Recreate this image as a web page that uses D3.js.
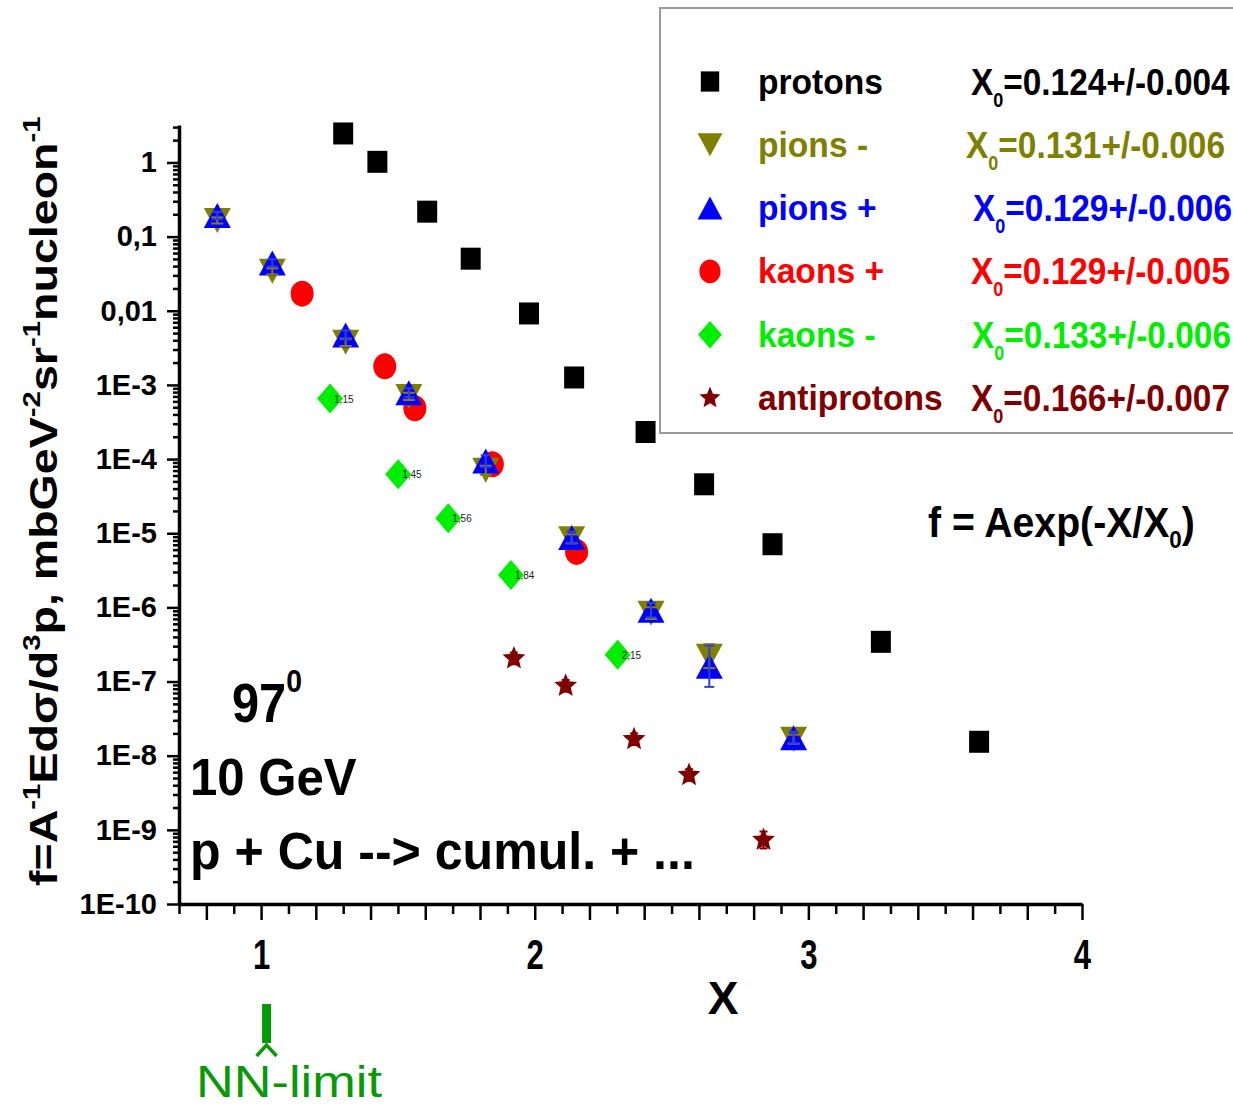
<!DOCTYPE html>
<html>
<head>
<meta charset="utf-8">
<script src="https://cdn.jsdelivr.net/npm/d3@7"></script>
<style>
  body { margin: 0; background: #fff; }
  svg { display: block; }
  text { font-family: "Liberation Sans", Arial, sans-serif; }
  .axis .domain { stroke: #000; stroke-width: 3.5; }
  .axis .tick line { stroke: #000; stroke-width: 2.5; }
</style>
</head>
<body>
<svg id="chart" width="1233" height="1109"></svg>
<script>
// ---- data ----
const protonsX = [1.300, 1.425, 1.607, 1.766, 1.979, 2.144, 2.405, 2.619, 2.869, 3.265, 3.624];
const protonsY = [2.46, 1.02, 0.217, 0.0504, 9.2e-3, 1.26e-3, 2.32e-4, 4.57e-5, 7.11e-6, 3.43e-7, 1.54e-8];

const pionsMinusX = [0.84, 1.041, 1.309, 1.540, 1.821, 2.135, 2.425, 2.638, 2.946];
const pionsMinusY = [0.165, 0.034, 3.75e-3, 7.0e-4, 7.06e-5, 8.4e-6, 8.36e-7, 2.2e-7, 1.67e-8];
const pionsMinusErr = [1.1, 1.1, 1.12, 1.12, 1.15, 1.15, 1.2, 1.45, 1.15];

const pionsPlusX = [0.84, 1.041, 1.309, 1.540, 1.821, 2.135, 2.425, 2.638, 2.946];
const pionsPlusY = [0.193, 0.0442, 4.73e-3, 7.83e-4, 9.4e-5, 8.75e-6, 9.16e-7, 1.61e-7, 1.75e-8];
const pionsPlusErr = [1.12, 1.12, 1.15, 1.15, 1.2, 1.2, 1.25, 1.9, 1.2];

const kaonsPlusX = [1.150, 1.452, 1.562, 1.845, 2.153];
const kaonsPlusY = [0.0170, 1.78e-3, 4.84e-4, 8.5e-5, 5.6e-6];

const kaonsMinusX = [1.252, 1.501, 1.684, 1.913, 2.303];
const kaonsMinusY = [6.54e-4, 6.24e-5, 1.59e-5, 2.74e-6, 2.29e-7];
const kaonsMinusLabels = ['1,15', '1,45', '1,56', '1,84', '2,15'];

const antiprotonsX = [1.924, 2.113, 2.363, 2.564, 2.836];
const antiprotonsY = [2.05e-7, 8.75e-8, 1.67e-8, 5.48e-9, 7.3e-10];
const antiprotonsErr = [1.2, 1.2, 1.2, 1.2, 1.3];

const legendNames = ['protons', 'pions -', 'pions +', 'kaons +', 'kaons -', 'antiprotons'];
const legendX0 = ['=0.124+/-0.004', '=0.131+/-0.006', '=0.129+/-0.006', '=0.129+/-0.005', '=0.133+/-0.006', '=0.166+/-0.007'];
const legendColors = ['#000000', '#808000', '#0000ff', '#ff0000', '#00ee00', '#800000'];
const legendShapes = ['square', 'down', 'up', 'circle', 'diamond', 'star'];

const yTickLabels = ['1E-10', '1E-9', '1E-8', '1E-7', '1E-6', '1E-5', '1E-4', '1E-3', '0,01', '0,1', '1'];
const xTickLabels = [1, 2, 3, 4];
const nnLimitX = 1.02;

// ---- setup ----
const svg = d3.select('#chart');
const x = d3.scaleLinear().domain([0.7, 4]).range([179, 1082]);
const y = d3.scaleLog().domain([1e-10, 3.2]).range([904, 125]);

function fitText(sel, w) {
    const bw = sel.node().getBBox().width;
    sel.attr('transform', `scale(${w / bw},1)`);
}

function starPath(w, h) {
    const R = w / 2, r = R * 0.45, sy = h / w;
    let d = '';
    for (let i = 0; i < 10; i++) {
        const a = -Math.PI / 2 + i * Math.PI / 5;
        const rr = i % 2 === 0 ? R : r;
        d += (i === 0 ? 'M' : 'L') + (rr * Math.cos(a)).toFixed(2) + ',' + (rr * Math.sin(a) * sy).toFixed(2);
    }
    return d + 'Z';
}

const shapes = {
    square: (w, h) => `M${-w / 2},${-h / 2}h${w}v${h}h${-w}Z`,
    up: (w, h) => `M0,${-h / 2}L${w / 2},${h / 2}L${-w / 2},${h / 2}Z`,
    down: (w, h) => `M0,${h / 2}L${w / 2},${-h / 2}L${-w / 2},${-h / 2}Z`,
    diamond: (w, h) => `M0,${-h / 2}L${w / 2},0L0,${h / 2}L${-w / 2},0Z`,
    circle: (w, h) => `M${-w / 2},0A${w / 2},${h / 2} 0 1,0 ${w / 2},0A${w / 2},${h / 2} 0 1,0 ${-w / 2},0Z`,
    star: starPath
};
const shapeSize = {
    square: [20, 22], up: [27, 25], down: [27, 25], diamond: [26, 30], circle: [23, 26], star: [24, 25]
};

// ---- legend box (behind points) ----
svg.append('rect')
    .attr('x', 660).attr('y', 8)
    .attr('width', 620).attr('height', 425)
    .attr('fill', '#fff')
    .attr('stroke', '#9a9a9a')
    .attr('stroke-width', 2);

// ---- axes ----
const yMajor = d3.range(-10, 1).map(e => Math.pow(10, e));
const yMinor = [];
for (let e = -10; e <= 0; e++) {
    for (let k = 2; k <= 9; k++) {
        const v = k * Math.pow(10, e);
        if (v <= 3.2) yMinor.push(v);
    }
}

svg.append('g')
    .attr('class', 'axis')
    .attr('transform', 'translate(179,0)')
    .call(d3.axisLeft(y).tickValues(yMinor).tickSize(6).tickSizeOuter(0).tickFormat(''))
    .select('.domain').remove();

svg.append('g')
    .attr('class', 'axis y-axis')
    .attr('transform', 'translate(179,0)')
    .call(d3.axisLeft(y)
        .tickValues(yMajor)
        .tickSize(12)
        .tickSizeOuter(0)
        .tickPadding(10)
        .tickFormat((d, i) => yTickLabels[i]))
    .selectAll('text')
    .attr('font-size', 29)
    .attr('font-weight', 'bold')
    .attr('font-family', '"Liberation Sans", Arial, sans-serif')
    .attr('fill', '#000');

const xShort = d3.range(7, 40, 2).map(v => v / 10);
const xLong = d3.range(8, 41, 2).map(v => v / 10);

svg.append('g')
    .attr('class', 'axis')
    .attr('transform', 'translate(0,904)')
    .call(d3.axisBottom(x).tickValues(xShort).tickSize(10).tickSizeOuter(0).tickFormat(''))
    .select('.domain').remove();

svg.append('g')
    .attr('class', 'axis x-axis')
    .attr('transform', 'translate(0,904)')
    .call(d3.axisBottom(x)
        .tickValues(xLong)
        .tickSize(16)
        .tickSizeOuter(0)
        .tickPadding(19)
        .tickFormat(d => {
            const n = Math.round(d * 10) / 10;
            return xTickLabels.includes(n) ? n : '';
        }))
    .selectAll('text')
    .attr('font-size', 42)
    .attr('font-weight', 'bold')
    .attr('fill', '#000')
    .attr('transform', 'scale(0.74,1)');

// axis titles
svg.append('text')
    .attr('x', 723).attr('y', 1014)
    .attr('text-anchor', 'middle')
    .attr('font-size', 46)
    .attr('font-weight', 'bold')
    .text('X');

const yTitleG = svg.append('g').attr('transform', 'translate(57,886) rotate(-90)');
const yTitle = yTitleG.append('text')
    .attr('font-size', 38)
    .attr('font-weight', 'bold');
const yTitleParts = [
    ['f=A', 0], ['-1', 1], ['Edσ/d', 0], ['3', 1], ['p, mbGeV', 0], ['-2', 1],
    ['sr', 0], ['-1', 1], ['nucleon', 0], ['-1', 1]
];
let prevSup = 0;
yTitleParts.forEach(([t, sup]) => {
    const ts = yTitle.append('tspan').text(t);
    if (sup) ts.attr('font-size', 24);
    const shift = (sup - prevSup) * -17;
    if (shift) ts.attr('dy', shift);
    prevSup = sup;
});
fitText(yTitle, 770);

// ---- series ----
const series = [
    { key: 'kaons +', xs: kaonsPlusX, ys: kaonsPlusY, shape: 'circle', color: '#ff0000' },
    { key: 'pions -', xs: pionsMinusX, ys: pionsMinusY, shape: 'down', color: '#808000' },
    { key: 'pions +', xs: pionsPlusX, ys: pionsPlusY, shape: 'up', color: '#0000ff' },
    { key: 'kaons -', xs: kaonsMinusX, ys: kaonsMinusY, shape: 'diamond', color: '#00ee00' },
    { key: 'antiprotons', xs: antiprotonsX, ys: antiprotonsY, shape: 'star', color: '#800000' },
    { key: 'protons', xs: protonsX, ys: protonsY, shape: 'square', color: '#000000' }
];

series.forEach(s => {
    const pts = s.xs.map((v, i) => ({ x: v, y: s.ys[i] }));
    const [w, h] = shapeSize[s.shape];
    svg.append('g')
        .selectAll('path')
        .data(pts)
        .enter()
        .append('path')
        .attr('transform', d => `translate(${x(d.x)},${y(d.y)})`)
        .attr('d', shapes[s.shape](w, h))
        .attr('fill', s.color);
});

// error bars
function errorBars(xs, ys, errs, color, capW) {
    const pts = xs.map((v, i) => ({ x: v, y: ys[i], f: errs[i] }));
    const g = svg.append('g').attr('stroke', color).attr('stroke-width', 2);
    g.selectAll('.eb')
        .data(pts)
        .enter()
        .append('line')
        .attr('x1', d => x(d.x)).attr('x2', d => x(d.x))
        .attr('y1', d => y(d.y * d.f)).attr('y2', d => y(d.y / d.f));
    g.selectAll('.cap-top')
        .data(pts)
        .enter()
        .append('line')
        .attr('x1', d => x(d.x) - capW / 2).attr('x2', d => x(d.x) + capW / 2)
        .attr('y1', d => y(d.y * d.f)).attr('y2', d => y(d.y * d.f));
    g.selectAll('.cap-bot')
        .data(pts)
        .enter()
        .append('line')
        .attr('x1', d => x(d.x) - capW / 2).attr('x2', d => x(d.x) + capW / 2)
        .attr('y1', d => y(d.y / d.f)).attr('y2', d => y(d.y / d.f));
}
errorBars(pionsMinusX, pionsMinusY, pionsMinusErr, '#8a7a20', 12);
errorBars(pionsPlusX, pionsPlusY, pionsPlusErr, '#3040d0', 10);
errorBars(antiprotonsX, antiprotonsY, antiprotonsErr, '#800000', 8);

// small labels by the kaon- diamonds
svg.append('g')
    .selectAll('text')
    .data(kaonsMinusX.map((v, i) => ({ x: v, y: kaonsMinusY[i], t: kaonsMinusLabels[i] })))
    .enter()
    .append('text')
    .attr('x', d => x(d.x) + 4)
    .attr('y', d => y(d.y) + 4)
    .attr('font-size', 10)
    .attr('fill', '#222')
    .text(d => d.t);

// ---- legend ----
const legend = svg.append('g');
legendNames.forEach((name, i) => {
    const ry = 81.5 + i * 63.3;
    const [w, h] = shapeSize[legendShapes[i]];
    legend.append('path')
        .attr('transform', `translate(710,${ry})`)
        .attr('d', shapes[legendShapes[i]](w * 0.92, h * 0.92))
        .attr('fill', legendColors[i]);

    const ng = legend.append('g').attr('transform', `translate(758,${ry + 12})`);
    const nt = ng.append('text')
        .attr('font-size', 35)
        .attr('font-weight', 'bold')
        .attr('fill', legendColors[i])
        .text(name);
    nt.attr('transform', 'scale(0.96,1)');

    const x0Start = [971, 966, 973, 971, 972, 971][i];
    const xg = legend.append('g').attr('transform', `translate(${x0Start},${ry + 13})`);
    const xt = xg.append('text')
        .attr('font-size', 37)
        .attr('font-weight', 'bold')
        .attr('fill', legendColors[i]);
    xt.append('tspan').text('X');
    xt.append('tspan').attr('font-size', 20).attr('dy', 12).text('0');
    xt.append('tspan').attr('dy', -12).text(legendX0[i]);
    fitText(xt, 259);
});

// ---- annotations ----
function block(tx, ty, size, parts, width) {
    const g = svg.append('g').attr('transform', `translate(${tx},${ty})`);
    const t = g.append('text').attr('font-size', size).attr('font-weight', 'bold').attr('fill', '#000');
    parts.forEach(p => {
        const ts = t.append('tspan').text(p.t);
        if (p.size) ts.attr('font-size', p.size);
        if (p.dy) ts.attr('dy', p.dy);
    });
    fitText(t, width);
}

block(928, 537, 42, [
    { t: 'f = Aexp(-X/X' }, { t: '0', size: 24, dy: 11 }, { t: ')', dy: -11 }
], 267);

block(232, 722, 55, [
    { t: '97' }, { t: '0', size: 32, dy: -30 }
], 70);
block(190, 795, 52, [{ t: '10 GeV' }], 167);
block(190, 869, 52, [{ t: 'p + Cu --> cumul. + ...' }], 505);

// NN-limit marker below the axis
const nnColor = '#079a07';
svg.append('rect')
    .attr('x', x(nnLimitX) - 4.5).attr('y', 1004)
    .attr('width', 9).attr('height', 39)
    .attr('fill', nnColor);
svg.append('path')
    .attr('d', `M${x(nnLimitX) - 10},1056L${x(nnLimitX)},1045L${x(nnLimitX) + 10},1056`)
    .attr('fill', 'none')
    .attr('stroke', nnColor)
    .attr('stroke-width', 3.5);
const nnG = svg.append('g').attr('transform', 'translate(196,1097)');
const nnT = nnG.append('text')
    .attr('font-family', '"DejaVu Sans", Verdana, sans-serif')
    .attr('font-size', 44)
    .attr('fill', nnColor)
    .text('NN-limit');
fitText(nnT, 186);
</script>
</body>
</html>
